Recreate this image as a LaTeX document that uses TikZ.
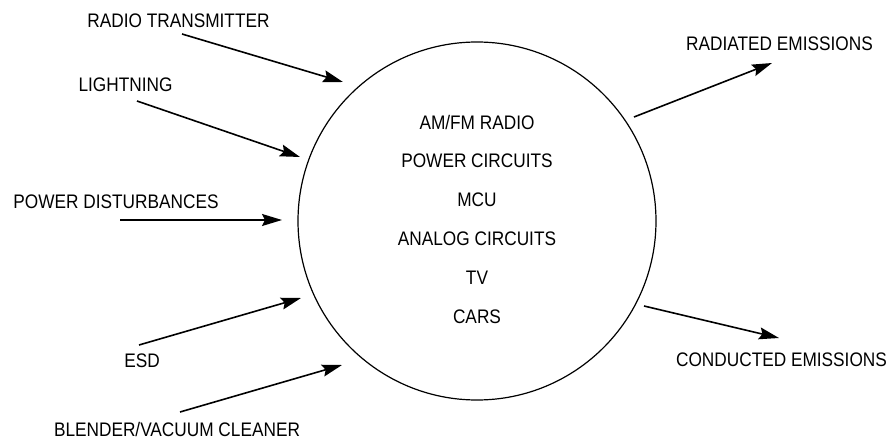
\documentclass[tikz,border=0pt]{standalone}
\usepackage{fontspec}
\setmainfont{Liberation Sans}[FakeStretch=0.88]
\usetikzlibrary{arrows.meta}

\begin{document}
\begin{tikzpicture}[x=1pt, y=-1pt, >={Stealth[length=20pt, width=12pt, inset=3pt]},
  lbl/.style={font=\fontsize{19.6}{22}\selectfont, inner sep=0pt},
  src/.style={->, line width=1.6pt}]
\useasboundingbox (0,0) rectangle (895,441);
% device under test
\node[draw, circle, line width=1.2pt, minimum size=358pt, inner sep=0pt] (dut) at (477,221) {};
\node[lbl] (amfm) at (477,122) {AM/FM RADIO};
\node[lbl] (pwrc) at (477,161) {POWER CIRCUITS};
\node[lbl] (mcu) at (477,200) {MCU};
\node[lbl] (anac) at (477,239) {ANALOG CIRCUITS};
\node[lbl] (tv) at (477,278) {TV};
\node[lbl] (cars) at (477,317) {CARS};
% sources
\node[lbl] (radio) at (178.5,21) {RADIO TRANSMITTER};
\node[lbl] (light) at (125.5,85) {LIGHTNING};
\node[lbl] (pdist) at (116,202) {POWER DISTURBANCES};
\node[lbl] (esd) at (142,361) {ESD};
\node[lbl] (blend) at (177,429) {BLENDER/VACUUM CLEANER};
% emissions
\node[lbl] (radem) at (779.5,44) {RADIATED EMISSIONS};
\node[lbl] (conem) at (781.5,360) {CONDUCTED EMISSIONS};
% arrow ends
\coordinate (radio-s) at (182,34);  \coordinate (radio-t) at (343,82);
\coordinate (light-s) at (137,101); \coordinate (light-t) at (300,157);
\coordinate (pdist-s) at (120,220); \coordinate (pdist-t) at (282,220);
\coordinate (esd-s) at (139,345);   \coordinate (esd-t) at (301,298);
\coordinate (blend-s) at (180,412); \coordinate (blend-t) at (342,365);
\coordinate (radem-s) at (634,117); \coordinate (radem-t) at (772,63);
\coordinate (conem-s) at (644,306); \coordinate (conem-t) at (779,338);
\foreach \a in {radio,light,pdist,esd,blend,radem,conem}
  \draw[src] (\a-s) -- (\a-t);
\end{tikzpicture}
\end{document}
